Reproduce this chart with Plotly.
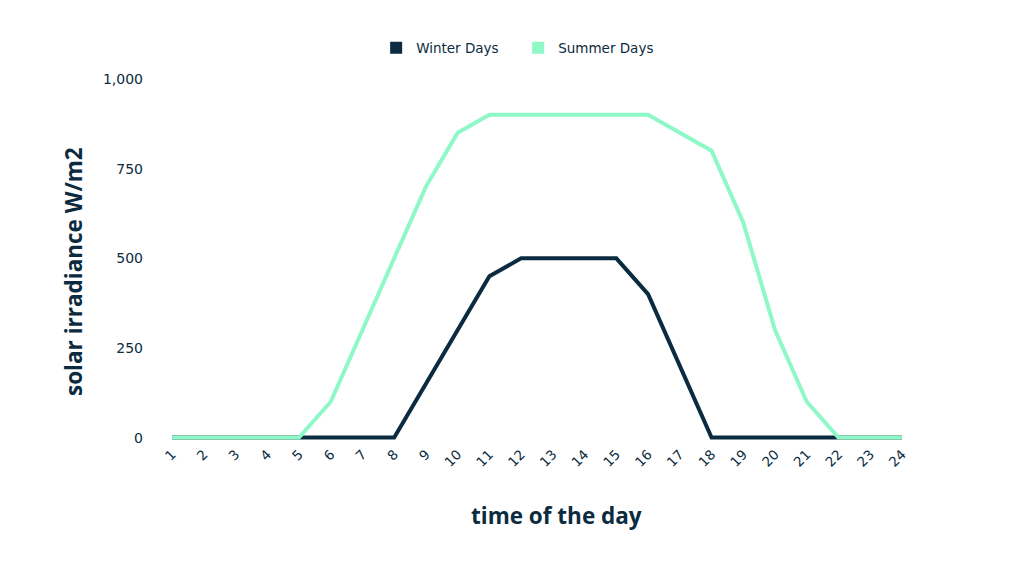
import plotly.graph_objects as go

hours = [str(h) for h in range(1, 25)]
winter = [0, 0, 0, 0, 0, 0, 0, 0, 150, 300, 450, 500, 500, 500, 500, 400, 200, 0, 0, 0, 0, 0, 0, 0]
summer = [0, 0, 0, 0, 0, 100, 300, 500, 700, 850, 900, 900, 900, 900, 900, 900, 850, 800, 600, 300, 100, 0, 0, 0]
y_ticks = [0, 250, 500, 750, 1000]

navy = "#0b2b40"
mint = "#8ef8c6"
fig = go.Figure()

# lines (legend drawn separately with square markers)
for name, vals, col in [("Winter Days", winter, navy), ("Summer Days", summer, mint)]:
    fig.add_trace(go.Scatter(x=hours, y=vals, mode="lines", name=name,
                             line=dict(color=col, width=4), showlegend=False,
                             cliponaxis=False))
for name, col in [("Winter Days", navy), ("Summer Days", mint)]:
    fig.add_trace(go.Scatter(x=[None], y=[None], mode="markers", name=name,
                             marker=dict(symbol="square", size=12, color=col)))

title_font = dict(family="Open Sans, sans-serif", size=22.5, color=navy)
# axis titles as annotations, they sit a bit off-centre in the original
fig.add_annotation(text="<b>time of the day</b>", xref="paper", yref="paper",
                   x=0.5265, y=-0.2005, xanchor="center", yanchor="middle",
                   showarrow=False, font=title_font)
fig.add_annotation(text="<b>solar irradiance W/m2</b>", xref="paper", yref="paper",
                   x=-0.1154, y=0.4725, xanchor="center", yanchor="middle",
                   textangle=-90, showarrow=False, font=title_font)

# page body adds 8px offset, so margins are shifted back by 8px
fig.update_layout(
    width=1024, height=571,
    margin=dict(l=152, r=118, t=71, b=136),
    plot_bgcolor="white", paper_bgcolor="white",
    font=dict(family="DejaVu Sans, sans-serif", color=navy, size=14),
    legend=dict(orientation="h", x=0.475, xanchor="center", y=1.085, yanchor="middle",
                font=dict(size=13.5), entrywidth=97),
    xaxis=dict(
        type="category", range=[-0.38, 23.38], automargin=False,
        showgrid=False, zeroline=False, showline=False, ticks="",
        tickangle=-45, tickfont=dict(size=13.5),
    ),
    yaxis=dict(
        range=[-15, 1000], tickvals=y_ticks, tickformat=",", automargin=False,
        showgrid=False, zeroline=False, showline=False, ticks="",
        ticklabelstandoff=16, tickfont=dict(size=14),
    ),
)

fig.write_html("out.html")
